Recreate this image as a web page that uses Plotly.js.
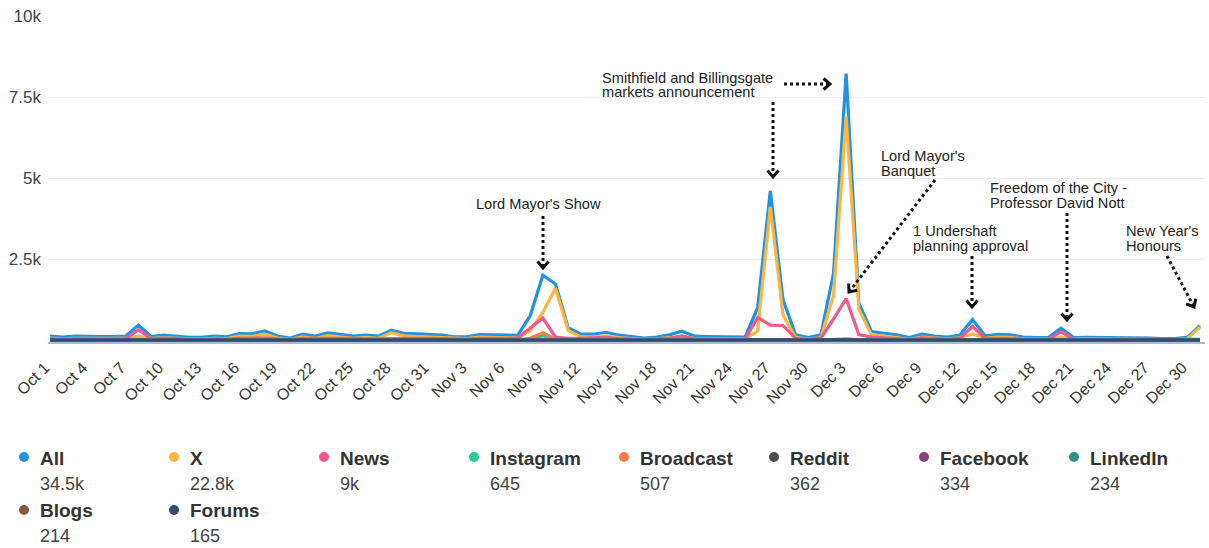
<!DOCTYPE html>
<html>
<head>
<meta charset="utf-8">
<script src="https://cdn.plot.ly/plotly-3.0.1.min.js"></script>
<style>
  html, body { margin: 0; padding: 0; background: #ffffff; }
  #chart { width: 1209px; height: 548px; }
</style>
</head>
<body>
<div id="chart"></div>
<script>
// Daily mention volumes by channel, 1 Oct – 31 Dec 2024
const startDate = '2024-10-01';
const dayCount = 92;

const seriesNames  = ['All', 'X', 'News', 'Instagram', 'Broadcast', 'Reddit', 'Facebook', 'LinkedIn', 'Blogs', 'Forums'];
const seriesTotals = ['34.5k', '22.8k', '9k', '645', '507', '362', '334', '234', '214', '165'];

const allMentions = [
  125, 95, 125, 110, 105, 105, 125, 460, 110, 150,
  120, 85, 80, 120, 100, 200, 195, 280, 125, 60,
  180, 120, 220, 175, 120, 150, 120, 305, 210, 190,
  170, 150, 100, 100, 170, 160, 140, 145, 750, 2000,
  1730, 380, 180, 180, 240, 150, 105, 60, 95, 160,
  275, 120, 110, 100, 100, 90, 1000, 4600, 1250, 160,
  75, 160, 2050, 8220, 1150, 265, 210, 160, 75, 180,
  125, 95, 155, 630, 125, 175, 160, 95, 75, 75,
  365, 75, 80, 80, 60, 60, 80, 60, 45, 45,
  80, 440
];
const xMentions = [
  60, 40, 55, 50, 50, 45, 55, 110, 50, 70,
  55, 35, 30, 55, 45, 120, 115, 180, 60, 20,
  100, 55, 140, 95, 55, 80, 55, 230, 130, 110,
  95, 80, 45, 45, 90, 85, 70, 60, 290, 850,
  1600, 300, 100, 95, 130, 75, 45, 20, 40, 80,
  110, 55, 50, 45, 45, 35, 280, 4110, 780, 80,
  30, 70, 1380, 6900, 960, 160, 120, 80, 25, 90,
  55, 40, 70, 190, 55, 90, 80, 40, 30, 30,
  90, 30, 35, 35, 25, 25, 40, 25, 15, 15,
  40, 400
];
const newsMentions = [
  40, 30, 45, 35, 30, 35, 45, 320, 35, 55,
  40, 25, 25, 40, 30, 50, 50, 70, 40, 20,
  50, 40, 50, 50, 40, 45, 40, 45, 55, 55,
  50, 45, 30, 30, 55, 50, 45, 55, 370, 680,
  90, 50, 50, 55, 80, 45, 35, 20, 35, 55,
  130, 40, 35, 30, 30, 30, 700, 460, 450, 50,
  25, 60, 650, 1280, 170, 90, 70, 55, 25, 65,
  45, 30, 60, 420, 45, 60, 55, 30, 25, 25,
  255, 25, 25, 25, 15, 15, 20, 15, 10, 10,
  20, 20
];
const instagramMentions = [
  5, 4, 6, 5, 4, 4, 5, 12, 4, 6,
  5, 3, 3, 5, 4, 7, 6, 8, 5, 2,
  6, 4, 7, 6, 4, 5, 4, 9, 7, 6,
  5, 5, 3, 3, 6, 5, 5, 5, 20, 130,
  15, 8, 5, 5, 7, 5, 4, 2, 3, 5,
  8, 4, 4, 3, 3, 3, 10, 20, 8, 5,
  2, 5, 15, 40, 10, 6, 5, 5, 2, 5,
  4, 3, 5, 10, 4, 5, 5, 3, 2, 2,
  6, 2, 2, 2, 2, 2, 2, 2, 1, 1,
  2, 8
];
const broadcastMentions = [
  2, 1, 3, 2, 2, 1, 2, 6, 2, 3,
  2, 1, 1, 2, 2, 4, 3, 4, 2, 1,
  3, 2, 4, 3, 2, 2, 2, 5, 3, 3,
  3, 2, 1, 1, 3, 3, 2, 3, 60, 225,
  20, 5, 2, 2, 3, 2, 1, 1, 1, 2,
  3, 2, 1, 1, 1, 1, 6, 10, 4, 2,
  1, 2, 6, 12, 3, 2, 2, 1, 1, 2,
  2, 1, 2, 4, 2, 2, 2, 1, 1, 1,
  3, 1, 1, 1, 0, 0, 1, 1, 0, 0,
  1, 2
];
const redditMentions = [
  4, 3, 4, 4, 3, 3, 4, 6, 3, 5,
  4, 3, 2, 4, 3, 5, 5, 6, 4, 2,
  5, 4, 5, 5, 3, 4, 3, 6, 5, 5,
  4, 4, 3, 3, 4, 4, 4, 4, 8, 10,
  12, 6, 4, 4, 5, 4, 3, 2, 3, 4,
  5, 3, 3, 3, 3, 2, 6, 8, 6, 4,
  2, 4, 8, 8, 6, 4, 4, 3, 2, 4,
  3, 2, 4, 6, 3, 4, 4, 3, 2, 2,
  4, 2, 2, 2, 2, 2, 2, 2, 1, 1,
  2, 4
];
const facebookMentions = [
  3, 3, 4, 3, 3, 3, 3, 8, 3, 4,
  3, 2, 2, 3, 3, 4, 4, 5, 3, 2,
  4, 3, 5, 4, 3, 3, 3, 5, 4, 4,
  4, 3, 2, 2, 4, 3, 3, 3, 10, 20,
  10, 5, 3, 3, 4, 3, 2, 2, 2, 3,
  5, 3, 2, 2, 2, 2, 6, 10, 5, 3,
  2, 3, 6, 10, 4, 3, 3, 2, 2, 3,
  3, 2, 3, 6, 3, 3, 3, 2, 2, 2,
  4, 2, 2, 2, 2, 2, 2, 2, 1, 1,
  2, 3
];
const linkedinMentions = [
  2, 2, 3, 2, 2, 1, 2, 5, 2, 3,
  2, 2, 2, 3, 2, 3, 3, 3, 2, 1,
  3, 2, 3, 3, 2, 2, 2, 4, 3, 3,
  3, 2, 2, 2, 3, 3, 3, 3, 5, 12,
  6, 3, 2, 2, 3, 2, 1, 1, 2, 2,
  3, 2, 2, 2, 2, 2, 4, 6, 3, 2,
  1, 2, 4, 7, 3, 2, 2, 1, 1, 2,
  2, 2, 2, 4, 2, 2, 2, 1, 1, 1,
  3, 1, 1, 1, 1, 1, 1, 1, 1, 1,
  1, 2
];
const blogsMentions = [
  2, 2, 2, 2, 2, 1, 2, 4, 2, 3,
  2, 1, 1, 2, 2, 3, 3, 4, 2, 1,
  3, 2, 3, 3, 2, 2, 2, 4, 3, 3,
  2, 2, 1, 1, 2, 2, 2, 2, 5, 10,
  6, 3, 2, 2, 3, 2, 1, 1, 1, 2,
  3, 2, 2, 2, 2, 2, 4, 7, 3, 2,
  1, 2, 4, 8, 3, 2, 2, 1, 1, 2,
  2, 1, 2, 4, 2, 2, 2, 1, 1, 1,
  3, 1, 1, 1, 1, 1, 1, 1, 1, 1,
  1, 3
];
const forumsMentions = [
  2, 1, 2, 2, 1, 1, 2, 3, 1, 2,
  2, 1, 1, 2, 1, 2, 2, 3, 2, 1,
  2, 2, 2, 2, 1, 2, 1, 3, 2, 2,
  2, 1, 1, 1, 2, 2, 2, 2, 3, 6,
  4, 2, 1, 2, 2, 2, 1, 1, 1, 2,
  3, 2, 1, 1, 1, 1, 3, 5, 2, 1,
  1, 2, 3, 6, 2, 2, 2, 1, 1, 2,
  2, 1, 2, 3, 2, 2, 2, 1, 1, 1,
  2, 1, 1, 1, 1, 1, 1, 1, 1, 1,
  1, 2
];

const xTickLabels = [
  'Oct 1', 'Oct 4', 'Oct 7', 'Oct 10', 'Oct 13', 'Oct 16', 'Oct 19', 'Oct 22', 'Oct 25', 'Oct 28', 'Oct 31',
  'Nov 3', 'Nov 6', 'Nov 9', 'Nov 12', 'Nov 15', 'Nov 18', 'Nov 21', 'Nov 24', 'Nov 27', 'Nov 30',
  'Dec 3', 'Dec 6', 'Dec 9', 'Dec 12', 'Dec 15', 'Dec 18', 'Dec 21', 'Dec 24', 'Dec 27', 'Dec 30'
];
const yTickValues = [2500, 5000, 7500, 10000];
const yTickLabels = ['2.5k', '5k', '7.5k', '10k'];

const eventNotes = [
  ["Lord Mayor's Show"],
  ['Smithfield and Billingsgate', 'markets announcement'],
  ["Lord Mayor's", 'Banquet'],
  ['1 Undershaft', 'planning approval'],
  ['Freedom of the City -', 'Professor David Nott'],
  ["New Year's", 'Honours']
];

// ---- styling ----
const seriesColors = ['#1e93e4', '#fbb63f', '#ef5a8c', '#22cc99', '#ff7a45', '#4d4d4d', '#8c3d7e', '#2b8f86', '#8b5a3a', '#2e4d7b'];
const FONT = 'Liberation Sans, Arial, Helvetica, sans-serif';

// daily date strings
const dates = [];
{
  const d0 = new Date(startDate + 'T00:00:00Z');
  for (let i = 0; i < dayCount; i++) {
    const d = new Date(d0.getTime() + i * 86400000);
    dates.push(d.toISOString().slice(0, 10));
  }
}
const xTickValues = xTickLabels.map((_, i) => dates[i * 3]);

const seriesValues = [allMentions, xMentions, newsMentions, instagramMentions, broadcastMentions,
  redditMentions, facebookMentions, linkedinMentions, blogsMentions, forumsMentions];

const traces = seriesNames.map((name, i) => ({
  type: 'scatter',
  mode: 'lines',
  name: name,
  x: dates,
  y: seriesValues[i],
  line: { color: seriesColors[i], width: i < 3 ? 3.2 : 3, shape: 'linear' },
  hoverinfo: 'skip',
  showlegend: false
}));

// page geometry (pixels) and helpers converting to paper coordinates
const W = 1209, H = 548;
const M = { l: 48, r: 4, t: 16, b: 206 };
const plotW = W - M.l - M.r;
const plotH = H - M.t - M.b;
const px = p => (p - M.l) / plotW;
const py = p => (M.t + plotH - p) / plotH;

const shapes = [];
const annotations = [];

// callout labels with dotted arrows
const noteLayout = [
  { x: 476, y: [204], arrows: [[543, 216, 543, 268]] },
  { x: 602, y: [78, 92], arrows: [[773, 102, 773, 177], [784, 84, 830, 84]] },
  { x: 881, y: [156, 171], arrows: [[935, 180, 849, 292]] },
  { x: 913, y: [231, 246], arrows: [[972, 256, 972, 307]] },
  { x: 990, y: [188, 203], arrows: [[1067, 213, 1067, 320]] },
  { x: 1126, y: [231, 246], arrows: [[1167, 256, 1194, 307]] }
];

eventNotes.forEach((lines, k) => {
  const pos = noteLayout[k];
  lines.forEach((txt, j) => {
    annotations.push({
      xref: 'paper', yref: 'paper',
      x: px(pos.x - 2), y: py(pos.y[j]),
      xanchor: 'left', yanchor: 'middle',
      text: txt, showarrow: false,
      font: { family: FONT, size: 14.6, color: '#222222' }
    });
  });
  pos.arrows.forEach(([x0, y0, x1, y1]) => {
    const len = Math.hypot(x1 - x0, y1 - y0);
    const ux = (x1 - x0) / len, uy = (y1 - y0) / len;
    shapes.push({
      type: 'line', xref: 'paper', yref: 'paper',
      x0: px(x0), y0: py(y0), x1: px(x1 - ux * 2), y1: py(y1 - uy * 2),
      line: { color: '#111111', width: 3, dash: 'dot' }
    });
    const back = 6.5, half = 5.5;
    const bx = x1 - ux * back, by = y1 - uy * back;
    const ax = bx - uy * half, ay = by + ux * half;
    const cx = bx + uy * half, cy = by - ux * half;
    shapes.push({
      type: 'path', xref: 'paper', yref: 'paper',
      path: `M ${px(ax)} ${py(ay)} L ${px(x1)} ${py(y1)} L ${px(cx)} ${py(cy)}`,
      line: { color: '#111111', width: 3 }
    });
  });
});

// legend: coloured dot, channel name and total
seriesNames.forEach((name, i) => {
  const row = Math.floor(i / 8), col = i % 8;
  const dotX = 24 + col * 150;
  const nameY = 458 + row * 53;
  const valueY = 484 + row * 52;
  const r = 5;
  shapes.push({
    type: 'circle', xref: 'paper', yref: 'paper',
    x0: px(dotX - r), x1: px(dotX + r), y0: py(nameY - 1 + r), y1: py(nameY - 1 - r),
    fillcolor: seriesColors[i], line: { width: 0 }
  });
  annotations.push({
    xref: 'paper', yref: 'paper', x: px(dotX + 14), y: py(nameY),
    xanchor: 'left', yanchor: 'middle', showarrow: false,
    text: name, font: { family: FONT, size: 19, color: '#333333', weight: 'bold' }
  });
  annotations.push({
    xref: 'paper', yref: 'paper', x: px(dotX + 14), y: py(valueY),
    xanchor: 'left', yanchor: 'middle', showarrow: false,
    text: seriesTotals[i], font: { family: FONT, size: 18, color: '#444444' }
  });
});

const layout = {
  width: W, height: H,
  margin: M,
  paper_bgcolor: '#ffffff',
  plot_bgcolor: '#ffffff',
  showlegend: false,
  font: { family: FONT },
  xaxis: {
    type: 'date',
    range: ['2024-09-30 20:12', '2024-12-31 09:30'],
    tickmode: 'array',
    tickvals: xTickValues,
    ticktext: xTickLabels,
    tickangle: -45,
    ticks: '',
    ticklabelstandoff: 8,
    ticklabelshift: -5,
    tickfont: { family: FONT, size: 16, color: '#333333' },
    showgrid: false,
    zeroline: false,
    showline: true,
    linecolor: '#aebbcc',
    linewidth: 2,
    layer: 'below traces'
  },
  yaxis: {
    range: [-60, 10000],
    tickmode: 'array',
    tickvals: yTickValues,
    ticktext: yTickLabels,
    ticks: '',
    ticklabelstandoff: 6,
    tickfont: { family: FONT, size: 17, color: '#444444' },
    showgrid: true,
    gridcolor: '#ececec',
    gridwidth: 1,
    zeroline: false,
    showline: false,
    layer: 'below traces'
  },
  shapes: shapes,
  annotations: annotations
};

Plotly.newPlot('chart', traces, layout, { displayModeBar: false, staticPlot: true });
</script>
</body>
</html>
